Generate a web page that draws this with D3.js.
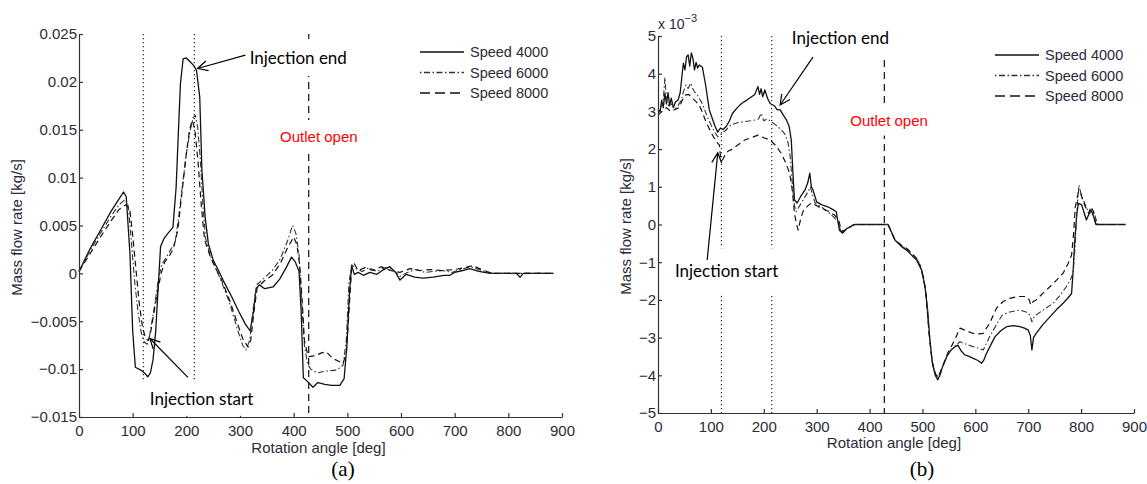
<!DOCTYPE html>
<html>
<head>
<meta charset="utf-8">
<script src="https://cdn.jsdelivr.net/npm/d3@7"></script>
<style>
  body { margin: 0; background: #fff; }
  text { font-family: "Liberation Sans", Arial, sans-serif; }
</style>
</head>
<body>
<div id="chart"></div>
<script>

// ---- AXIS TICKS ----
const xTicks = [0, 100, 200, 300, 400, 500, 600, 700, 800, 900];
const yTicksA = [0.025, 0.02, 0.015, 0.01, 0.005, 0, -0.005, -0.01, -0.015];
const yLabelsA = ["0.025", "0.02", "0.015", "0.01", "0.005", "0", "\u22120.005", "\u22120.01", "\u22120.015"];
const yTicksB = [5, 4, 3, 2, 1, 0, -1, -2, -3, -4, -5];
const yLabelsB = ["5", "4", "3", "2", "1", "0", "\u22121", "\u22122", "\u22123", "\u22124", "\u22125"];

const seriesNames = ["Speed 4000", "Speed 6000", "Speed 8000"];

// reference angles [deg]
const injectionAngles = [120, 215];
const outletAngle = 428;

// ---- PANEL (a): mass flow rate [kg/s] vs rotation angle [deg] ----
const a4000 = [[0,0.0002],[20,0.0025],[40,0.0045],[60,0.0065],[75,0.0078],[83,0.0085],[88,0.008],[95,0.002],[100,-0.006],[105,-0.0098],[115,-0.0101],[122,-0.0104],[128,-0.0108],[133,-0.0104],[138,-0.009],[143,-0.006],[148,-0.001],[152,0.0028],[158,0.0036],[166,0.0042],[175,0.0048],[181,0.009],[185,0.0145],[189,0.0198],[194,0.0224],[200,0.0225],[207,0.0221],[214,0.0217],[219,0.0212],[225,0.0184],[229,0.0108],[235,0.0059],[241,0.0031],[250,0.0014],[260,0.0003],[272,-0.0011],[285,-0.0025],[297,-0.0039],[310,-0.0053],[319,-0.006],[325,-0.004],[330,-0.0016],[336,-0.0012],[346,-0.0016],[362,-0.0014],[374,-0.0006],[386,0.0006],[396,0.0017],[403,0.0012],[410,0.0002],[414,-0.004],[418,-0.0109],[426,-0.0113],[436,-0.0119],[445,-0.0114],[458,-0.0116],[471,-0.0117],[486,-0.0117],[494,-0.011],[499,-0.0077],[504,-0.002],[508,0.0008],[513,-0.0001],[520,0.0001],[530,-0.0002],[542,0.0001],[555,-0.0001],[568,0.0004],[579,0.0007],[590,0.0001],[598,-0.0007],[610,-0.0001],[625,-0.0004],[641,-0.0005],[660,-0.0004],[680,-0.0002],[691,-0.0002],[700,0.0001],[715,0.0003],[728,0.0005],[745,0.0002],[766,0],[790,0],[815,0],[822,-0.0004],[828,0],[884,0]];
const a6000 = [[0,0.0002],[20,0.0023],[40,0.0042],[60,0.006],[75,0.0072],[86,0.0077],[92,0.007],[98,0.003],[104,-0.001],[110,-0.004],[116,-0.0062],[122,-0.0072],[127,-0.0074],[131,-0.0067],[136,-0.005],[142,-0.003],[148,-0.0005],[155,0.001],[162,0.0016],[170,0.0024],[179,0.0032],[186,0.006],[194,0.0098],[200,0.0125],[207,0.0149],[213,0.0163],[217,0.0165],[221,0.0153],[226,0.012],[231,0.007],[236,0.0036],[245,0.0018],[255,0.0005],[265,-0.0008],[280,-0.003],[295,-0.0058],[305,-0.0075],[311,-0.008],[318,-0.007],[325,-0.0035],[331,-0.0012],[345,-0.0005],[360,0.0003],[375,0.0015],[388,0.0033],[398,0.005],[404,0.0042],[410,0.002],[415,-0.003],[420,-0.0075],[426,-0.0095],[432,-0.01],[444,-0.0104],[460,-0.0102],[480,-0.0101],[492,-0.0096],[498,-0.007],[503,-0.001],[508,0.0009],[516,0.0005],[528,0.0002],[540,0.0006],[555,0.0002],[570,0.0006],[585,0.0004],[598,-0.0003],[612,0.0001],[628,0.0004],[645,0.0001],[660,0.0002],[678,0.0003],[695,0.0001],[710,0.0004],[730,0.0007],[750,0.0003],[770,0],[884,0]];
const a8000 = [[0,0.0002],[20,0.002],[40,0.0038],[60,0.0055],[75,0.0067],[88,0.0072],[95,0.0065],[100,0.004],[106,0.0005],[112,-0.003],[118,-0.0055],[124,-0.0068],[129,-0.007],[134,-0.006],[140,-0.004],[146,-0.002],[153,0],[160,0.0012],[168,0.0018],[176,0.0026],[184,0.0045],[192,0.0085],[200,0.0125],[206,0.015],[211,0.016],[216,0.015],[222,0.0115],[228,0.007],[234,0.0035],[245,0.0017],[255,0.0005],[265,-0.0006],[280,-0.0027],[295,-0.0052],[305,-0.0068],[315,-0.0077],[320,-0.007],[326,-0.004],[332,-0.0015],[345,-0.0008],[360,-0.0002],[375,0.001],[388,0.0026],[400,0.0038],[406,0.003],[411,0.001],[416,-0.003],[420,-0.007],[427,-0.0087],[440,-0.0086],[452,-0.0083],[461,-0.0082],[473,-0.0089],[485,-0.0092],[492,-0.0094],[498,-0.0084],[503,-0.004],[508,0.0005],[513,0.001],[520,0.0003],[533,0.0006],[548,0.0003],[563,0.0007],[580,0.0003],[598,0.0001],[617,0.0005],[635,0.0003],[655,0.0004],[676,0.0003],[700,0.0004],[718,0.0006],[734,0.0008],[750,0.0004],[770,0],[884,0]];

// ---- PANEL (b): mass flow rate [x 10^-3 kg/s] vs rotation angle [deg] ----
const b4000 = [[0,3.05],[4,3.0],[7,3.3],[10,3.1],[13,3.48],[16,3.2],[19,3.5],[22,3.15],[25,3.35],[29,3.1],[33,3.25],[38,3.3],[42,3.5],[45,3.9],[48,4.28],[51,4.1],[54,4.45],[57,4.5],[60,4.2],[63,4.55],[66,4.41],[69,4.1],[72,4.3],[75,4.15],[78,4.23],[84,4.17],[90,3.7],[97,3.04],[103,2.8],[108,2.6],[113,2.45],[118,2.56],[123,2.52],[129,2.6],[135,2.75],[141,2.95],[150,3.1],[158,3.21],[168,3.3],[177,3.39],[183,3.45],[189,3.66],[192,3.45],[195,3.6],[198,3.39],[202,3.57],[207,3.35],[212,3.21],[220,3.15],[225,3.05],[231,3.04],[237,2.9],[243,2.77],[248,2.6],[252,2.24],[255,1.4],[258,0.65],[263,0.57],[270,0.75],[278,0.92],[283,1.1],[287,1.36],[290,1.0],[293,0.92],[300,0.6],[310,0.52],[321,0.47],[330,0.4],[337,0.34],[343,-0.15],[349,-0.23],[356,-0.12],[363,-0.06],[372,0],[435,0],[448,-0.41],[460,-0.58],[470,-0.68],[480,-0.82],[489,-0.94],[498,-1.2],[505,-1.65],[510,-2.3],[514,-3.06],[519,-3.7],[524,-3.99],[529,-4.12],[533,-4.0],[538,-3.77],[546,-3.5],[554,-3.33],[561,-3.25],[567,-3.2],[573,-3.35],[580,-3.46],[588,-3.5],[596,-3.55],[604,-3.6],[612,-3.68],[616,-3.6],[621,-3.42],[629,-3.2],[637,-2.98],[648,-2.82],[659,-2.71],[672,-2.68],[684,-2.71],[693,-2.75],[700,-2.8],[704,-2.95],[707,-3.33],[710,-3.0],[715,-2.89],[728,-2.65],[741,-2.45],[754,-2.25],[766,-2.09],[775,-1.95],[782,-1.83],[785,-1.2],[788,-0.41],[792,0.3],[795,0.56],[801,0.52],[806,0.3],[810,0.12],[814,0.25],[819,0.38],[824,0.2],[828,0],[884,0]];
const b6000 = [[0,3.0],[5,3.1],[10,3.3],[13,3.9],[16,3.3],[20,3.15],[26,3.2],[32,3.05],[38,3.15],[44,3.3],[48,3.52],[53,3.7],[57,3.61],[62,3.75],[66,3.6],[69,3.52],[76,3.4],[84,3.2],[92,2.9],[100,2.65],[107,2.45],[113,2.33],[120,2.4],[128,2.5],[138,2.64],[150,2.7],[164,2.73],[175,2.75],[183,2.77],[190,2.8],[195,2.95],[200,2.75],[207,2.8],[214,2.73],[222,2.65],[233,2.51],[240,2.4],[246,2.16],[250,1.8],[255,0.92],[258,0.5],[261,0.34],[268,0.5],[278,0.74],[284,0.88],[288,1.0],[292,0.8],[297,0.57],[310,0.45],[321,0.34],[332,0.2],[340,0.07],[346,-0.19],[352,-0.15],[358,-0.1],[365,-0.05],[372,0],[435,0],[448,-0.41],[460,-0.55],[470,-0.65],[480,-0.8],[489,-0.92],[496,-1.05],[502,-1.4],[507,-1.9],[512,-2.8],[518,-3.6],[524,-3.95],[529,-4.05],[534,-3.95],[540,-3.7],[548,-3.45],[556,-3.3],[563,-3.2],[571,-3.11],[583,-3.18],[596,-3.24],[606,-3.28],[615,-3.33],[621,-3.15],[627,-2.98],[639,-2.68],[651,-2.4],[665,-2.32],[684,-2.27],[696,-2.32],[703,-2.4],[707,-2.58],[711,-2.45],[715,-2.4],[730,-2.25],[747,-2.09],[760,-1.88],[772,-1.65],[780,-1.45],[785,-1.29],[789,-0.5],[792,0.38],[796,1.05],[800,0.8],[804,0.65],[810,0.45],[816,0.3],[820,0.4],[823,0.38],[828,0.15],[832,0],[884,0]];
const b8000 = [[0,2.9],[8,3.0],[16,3.1],[24,3.0],[32,3.05],[40,3.1],[46,3.3],[51,3.43],[58,3.45],[65,3.35],[72,3.26],[78,3.15],[82,3.04],[90,2.75],[100,2.45],[110,2.2],[116,2.11],[119,1.7],[122,1.71],[127,1.85],[133,1.95],[138,1.98],[150,2.1],[164,2.24],[176,2.3],[189,2.37],[200,2.3],[212,2.24],[222,2.1],[233,1.89],[241,1.65],[249,1.36],[254,0.9],[258,0.3],[262,0],[265,-0.15],[269,0.1],[274,0.34],[282,0.48],[290,0.57],[300,0.5],[309,0.43],[322,0.35],[334,0.25],[342,0.1],[347,-0.19],[354,-0.15],[362,-0.08],[370,0],[435,0],[448,-0.41],[460,-0.55],[470,-0.63],[480,-0.76],[489,-0.9],[496,-1.12],[502,-1.4],[507,-1.9],[512,-2.8],[518,-3.6],[524,-3.95],[529,-4.05],[534,-3.9],[540,-3.7],[548,-3.4],[556,-3.2],[563,-3.0],[571,-2.75],[583,-2.82],[596,-2.89],[606,-2.9],[615,-2.89],[621,-2.75],[627,-2.62],[634,-2.4],[640,-2.22],[652,-2.05],[665,-1.96],[680,-1.91],[696,-1.91],[702,-2.0],[705,-2.14],[709,-2.05],[715,-2.0],[728,-1.82],[741,-1.65],[754,-1.47],[766,-1.29],[775,-1.05],[782,-0.81],[786,-0.2],[789,0.47],[795,0.87],[799,0.85],[801,0.74],[807,0.5],[814,0.3],[819,0.47],[823,0.35],[828,0],[884,0]];

// LINE STYLES FOR THE THREE SPEEDS
const lineStyles = [
  { color: "#111", width: 1.3, dash: null },
  { color: "#333", width: 1.1, dash: "1.5,2.5,6,2.5" },
  { color: "#111", width: 1.2, dash: "6,4" }
];

const width = 1147;
const height = 484;
const textColor = "#2b2b38";

const svg = d3.select("#chart").append("svg")
    .attr("width", width)
    .attr("height", height);

svg.append("defs").append("marker")
    .attr("id", "arrow")
    .attr("viewBox", "0 0 12 12")
    .attr("refX", 11)
    .attr("refY", 6)
    .attr("markerWidth", 12)
    .attr("markerHeight", 12)
    .attr("markerUnits", "userSpaceOnUse")
    .attr("orient", "auto")
  .append("path")
    .attr("d", "M1,1 L11,6 L1,11")
    .attr("fill", "none")
    .attr("stroke", "#000")
    .attr("stroke-width", 1.2);

// DRAW ONE PANEL
function drawPanel(p) {
  const x = d3.scaleLinear().domain([0, 900]).range([p.left, p.right]);
  const y = d3.scaleLinear().domain([p.yTicks[p.yTicks.length - 1], p.yTicks[0]]).range([p.bottom, p.top]);
  const g = svg.append("g");

  // injection (dotted) and outlet (dashed) markers
  g.selectAll(".inj").data(injectionAngles).join("line")
      .attr("x1", d => x(d)).attr("x2", d => x(d))
      .attr("y1", p.top).attr("y2", p.bottom)
      .attr("stroke", "#333").attr("stroke-width", 1.3)
      .attr("stroke-dasharray", "1.3,2.7");
  g.append("line")
      .attr("x1", x(outletAngle)).attr("x2", x(outletAngle))
      .attr("y1", p.top).attr("y2", p.bottom)
      .attr("stroke", "#222").attr("stroke-width", 1.3)
      .attr("stroke-dasharray", "7,5");

  // data lines
  const line = d3.line().x(d => x(d[0])).y(d => y(d[1]));
  p.series.forEach((s, k) => {
    const st = lineStyles[k];
    g.append("path")
        .attr("d", line(s))
        .attr("fill", "none")
        .attr("stroke", st.color)
        .attr("stroke-width", st.width)
        .attr("stroke-linejoin", "round")
        .attr("stroke-dasharray", st.dash);
  });

  // axes (ticks inside, MATLAB style)
  const xAxis = g.append("g")
      .attr("transform", `translate(0,${p.bottom})`)
      .call(d3.axisBottom(x).tickValues(xTicks).tickFormat(d => d)
        .tickSizeInner(-4).tickSizeOuter(0).tickPadding(8));
  const yAxis = g.append("g")
      .attr("transform", `translate(${p.left},0)`)
      .call(d3.axisLeft(y).tickValues(p.yTicks).tickFormat((d, i) => p.yLabels[i])
        .tickSizeInner(-4).tickSizeOuter(0).tickPadding(2));
  [xAxis, yAxis].forEach(ax => {
    ax.selectAll("path, line").attr("stroke", "#333").attr("stroke-width", 1.2);
    ax.selectAll("text").attr("fill", textColor).style("font-size", "15px")
        .style("font-family", "'Liberation Sans', Arial, sans-serif");
  });

  // axis titles
  g.append("text")
      .attr("x", (p.left + p.right) / 2 - 2)
      .attr("y", p.xTitleY)
      .attr("text-anchor", "middle")
      .attr("fill", textColor).style("font-size", "15px")
      .text("Rotation angle [deg]");
  g.append("text")
      .attr("transform", `translate(${p.yTitleX},${(p.top + p.bottom) / 2 + 2}) rotate(-90)`)
      .attr("text-anchor", "middle")
      .attr("fill", textColor).style("font-size", "15px")
      .text("Mass flow rate [kg/s]");

  // legend
  const lg = g.append("g").attr("transform", `translate(${p.legendX},${p.legendY})`);
  seriesNames.forEach((name, k) => {
    const st = lineStyles[k];
    lg.append("line")
        .attr("x1", 0).attr("x2", 44)
        .attr("y1", k * 20.5).attr("y2", k * 20.5)
        .attr("stroke", st.color).attr("stroke-width", st.width + 0.2)
        .attr("stroke-dasharray", st.dash === "6,4" ? "10,5" : st.dash);
    lg.append("text")
        .attr("x", 50).attr("y", k * 20.5 + 5)
        .attr("fill", textColor).style("font-size", "14.5px")
        .text(name);
  });

  // annotations with white boxes behind them
  p.notes.forEach(n => {
    const t = g.append("text")
        .attr("x", x(n.at[0])).attr("y", y(n.at[1]))
        .attr("text-anchor", n.anchor)
        .attr("dominant-baseline", "central")
        .attr("fill", n.color)
        .style("font-family", n.font)
        .style("font-size", n.size)
        .text(n.text);
    const bb = t.node().getBBox();
    g.insert("rect", () => t.node())
        .attr("x", bb.x - n.pad[0]).attr("y", bb.y - n.pad[1])
        .attr("width", bb.width + 2 * n.pad[0]).attr("height", bb.height + 2 * n.pad[1])
        .attr("fill", "#fff");
    if (n.from) {
      g.append("line")
          .attr("x1", x(n.from[0])).attr("y1", y(n.from[1]))
          .attr("x2", x(n.to[0])).attr("y2", y(n.to[1]))
          .attr("stroke", "#000").attr("stroke-width", 1.2)
          .attr("marker-end", "url(#arrow)");
    }
  });

  // panel label
  g.append("text")
      .attr("x", p.labelX).attr("y", 476)
      .attr("text-anchor", "middle")
      .style("font-family", "'Liberation Serif', 'Times New Roman', serif")
      .style("font-size", "21px")
      .attr("fill", "#000")
      .text(p.label);

  return { x, y, g };
}

const calibri = "Lato, 'Open Sans', sans-serif";
const arial = "'Liberation Sans', Arial, sans-serif";

drawPanel({
  left: 79, right: 562, top: 34, bottom: 417,
  yTicks: yTicksA, yLabels: yLabelsA,
  series: [a4000, a6000, a8000],
  xTitleY: 453, yTitleX: 22,
  legendX: 420, legendY: 52,
  labelX: 343, label: "(a)",
  notes: [
    { text: "Injection end", at: [318, 0.02255], anchor: "start", color: "#000", font: calibri, size: "17px", pad: [6, 8],
      from: [310, 0.0228], to: [221, 0.0214] },
    { text: "Injection start", at: [132, -0.01305], anchor: "start", color: "#000", font: calibri, size: "17px", pad: [8, 7],
      from: [203, -0.01086], to: [132, -0.0068] },
    { text: "Outlet open", at: [447, 0.0143], anchor: "middle", color: "#ff0000", font: arial, size: "15px", pad: [4, 8] }
  ]
});

drawPanel({
  left: 658, right: 1134, top: 36, bottom: 413,
  yTicks: yTicksB, yLabels: yLabelsB,
  series: [b4000, b6000, b8000],
  xTitleY: 448, yTitleX: 631,
  legendX: 995, legendY: 55,
  labelX: 922, label: "(b)",
  notes: [
    { text: "Injection end", at: [253, 4.95], anchor: "start", color: "#000", font: calibri, size: "17px", pad: [6, 8],
      from: [293, 4.44], to: [231, 3.17] },
    { text: "Injection start", at: [32, -1.23], anchor: "start", color: "#000", font: calibri, size: "17px", pad: [8, 12],
      from: [93, -0.94], to: [113, 1.9] },
    { text: "Outlet open", at: [437, 2.77], anchor: "middle", color: "#ff0000", font: arial, size: "15px", pad: [4, 7] }
  ]
});

// exponent label for panel (b)
const expo = svg.append("text")
    .attr("x", 658).attr("y", 29)
    .attr("fill", textColor).style("font-size", "14px");
expo.append("tspan").text("x 10");
expo.append("tspan").attr("dy", -7).style("font-size", "11px").text("\u22123");

</script>
</body>
</html>
